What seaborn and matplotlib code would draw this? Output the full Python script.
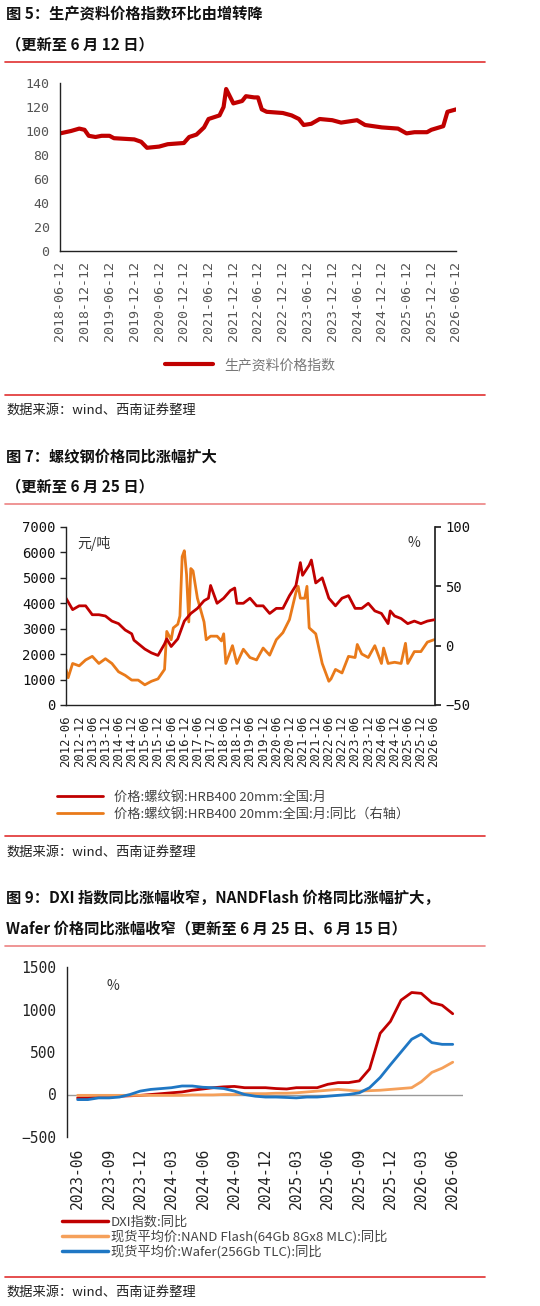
import matplotlib
matplotlib.use("Agg")
import matplotlib.pyplot as plt
import seaborn as sns
import pandas as pd
import numpy as np
from matplotlib.lines import Line2D

sns.set_theme(style="white")
plt.rcParams['font.family'] = ['Noto Sans CJK SC', 'DejaVu Sans']

# ---------- data ----------
p1_dates = ["2018-06-12","2018-09-01","2018-11-01","2018-12-10","2019-01-10","2019-03-01","2019-04-15","2019-06-12",
            "2019-07-15","2019-12-12","2020-02-01","2020-03-15","2020-06-12","2020-08-15","2020-12-12","2021-01-20",
            "2021-03-15","2021-05-10","2021-06-12","2021-09-01","2021-10-01","2021-10-20","2021-12-12","2022-02-15",
            "2022-03-15","2022-05-15","2022-06-12","2022-07-10","2022-08-15","2022-12-12","2023-02-15","2023-04-10",
            "2023-05-15","2023-07-10","2023-09-10","2023-12-12","2024-02-15","2024-06-12","2024-08-10","2024-12-12",
            "2025-04-10","2025-06-12","2025-08-10","2025-11-10","2025-12-12","2026-03-10","2026-04-10","2026-06-12"]
p1_vals = [98,100,102,101,96,95,96,96,94,93,91,86,87,89,90,95,97,103,110,113,120,135,123,125,
           129,128,128,118,116,115,113,110,105,106,110,109,107,109,105,103,102,98,99,99,101,104,116,118]
p1_ticks = ["2018-06-12","2018-12-12","2019-06-12","2019-12-12","2020-06-12","2020-12-12","2021-06-12","2021-12-12",
            "2022-06-12","2022-12-12","2023-06-12","2023-12-12","2024-06-12","2024-12-12","2025-06-12","2025-12-12","2026-06-12"]

p2_price_dates = ["2012-06","2012-09","2012-12","2013-03","2013-06","2013-09","2013-12","2014-03","2014-06","2014-09",
                  "2014-12","2015-01","2015-06","2015-09","2015-12","2016-03","2016-04","2016-06","2016-09","2016-12",
                  "2017-03","2017-06","2017-09","2017-11","2017-12","2018-03","2018-06","2018-09","2018-11","2018-12",
                  "2019-03","2019-06","2019-09","2019-12","2020-03","2020-06","2020-09","2020-12","2021-03","2021-05",
                  "2021-06","2021-09","2021-10","2021-12","2022-03","2022-06","2022-09","2022-12","2023-03","2023-06",
                  "2023-09","2023-12","2024-03","2024-06","2024-09","2024-10","2024-12","2025-03","2025-06","2025-09",
                  "2025-12","2026-03","2026-06"]
p2_price = [4200,3750,3900,3900,3550,3550,3500,3300,3200,2950,2800,2550,2200,2050,1950,2400,2600,2300,2600,3300,
            3600,3800,4100,4200,4700,4000,4200,4500,4600,4000,4000,4200,3900,3900,3600,3800,3800,4300,4700,5600,
            5100,5500,5700,4800,5000,4200,3900,4200,4300,3800,3800,4000,3700,3600,3200,3700,3500,3400,3200,3300,
            3200,3300,3350]
p2_yoy_dates = ["2012-06","2012-07","2012-09","2012-12","2013-03","2013-06","2013-09","2013-12","2014-03","2014-06",
                "2014-09","2014-12","2015-03","2015-06","2015-09","2015-12","2016-03","2016-04","2016-06","2016-07",
                "2016-09","2016-10","2016-11","2016-12","2017-01","2017-02","2017-03","2017-04","2017-06","2017-09",
                "2017-10","2017-12","2018-03","2018-05","2018-06","2018-07","2018-09","2018-10","2018-12","2019-03",
                "2019-06","2019-09","2019-12","2020-03","2020-06","2020-09","2020-12","2021-03","2021-04","2021-05",
                "2021-07","2021-08","2021-09","2021-12","2022-03","2022-06","2022-07","2022-09","2022-12","2023-03",
                "2023-06","2023-07","2023-09","2023-12","2024-03","2024-06","2024-07","2024-09","2024-12","2025-03",
                "2025-05","2025-06","2025-09","2025-12","2026-03","2026-06"]
p2_yoy = [-20,-27,-15,-17,-12,-9,-15,-11,-15,-22,-25,-29,-29,-33,-30,-28,-20,12,5,15,
          18,25,75,80,60,20,65,63,40,20,5,8,8,4,10,-15,-5,0,-15,-3,
          -10,-12,-2,-8,5,11,22,45,50,40,40,50,15,10,-15,-30,-28,-20,-23,-9,
          -10,1,-7,-10,0,-15,-2,-15,-14,-15,2,-15,-5,-5,3,5]

p3_months = pd.date_range("2023-06-01", "2026-06-01", freq="MS")
p3_dxi = [-40,-40,-30,-30,-20,-15,-10,0,10,20,30,50,65,80,90,95,80,80,80,70,65,80,80,80,120,140,140,160,300,720,860,1110,1200,1190,1080,1050,950]
p3_nand = [-10,-10,-10,-10,-10,-10,-10,-10,-10,-10,-10,-5,-5,-5,0,0,10,10,10,15,15,20,30,40,50,60,50,40,45,50,60,70,80,150,260,310,380]
p3_wafer = [-60,-60,-40,-40,-30,0,40,60,70,80,100,100,85,80,70,40,0,-20,-30,-30,-35,-40,-30,-30,-20,-10,0,20,80,200,350,500,650,710,610,590,590]
p3_ticks = ["2023-06","2023-09","2023-12","2024-03","2024-06","2024-09","2024-12","2025-03","2025-06","2025-09","2025-12","2026-03","2026-06"]

# ---------- figure ----------
W, H = 540, 1306
fig = plt.figure(figsize=(W/100, H/100), dpi=100)
RED = "#C00000"
ORANGE = "#E97A1A"
LORANGE = "#F5A05A"
BLUE = "#1F77C4"
GREY = "#404040"
MONO = ['DejaVu Sans Mono', 'Noto Sans CJK SC']

def axpx(l, t, r, b):
    return fig.add_axes([l/W, 1-b/H, (r-l)/W, (b-t)/H])

def hline(y, alpha=1.0):
    fig.add_artist(plt.Line2D([5/W, 485/W], [1-y/H, 1-y/H], color="#E03030", lw=1.2, alpha=alpha))

def head(y, lines):
    for i, s in enumerate(lines):
        fig.text(6/W, 1-(y+i*30)/H, s, fontsize=11, fontweight='bold', va='center', ha='left', color="#111111")

def source(y):
    fig.text(6/W, 1-y/H, "数据来源：wind、西南证券整理", fontsize=9.5, style='italic', va='center', color="#222222")

def style_ax(ax):
    for s in ['top', 'right']:
        ax.spines[s].set_visible(False)
    for s in ['left', 'bottom']:
        ax.spines[s].set_color("#222222"); ax.spines[s].set_linewidth(1.0)
    ax.tick_params(axis='both', colors="#222222", labelcolor=GREY, length=4, width=1, direction='out')
    ax.grid(False)

# ---- panel 1 ----
head(14, ["图 5：生产资料价格指数环比由增转降", "（更新至 6 月 12 日）"])
hline(62)
df1 = pd.DataFrame({"date": pd.to_datetime(p1_dates), "v": p1_vals})
ax1 = axpx(60, 83, 456, 251)
sns.lineplot(data=df1, x="date", y="v", ax=ax1, color=RED, lw=3, label="生产资料价格指数", legend=False)
ax1.set_ylim(0, 140); ax1.set_yticks(range(0, 141, 20))
ax1.set_xlim(pd.Timestamp("2018-06-12"), pd.Timestamp("2026-06-12"))
ax1.set_xticks(pd.to_datetime(p1_ticks)); ax1.set_xticklabels(p1_ticks, rotation=90)
ax1.set_xlabel(""); ax1.set_ylabel("")
style_ax(ax1)
for lab in ax1.get_xticklabels() + ax1.get_yticklabels():
    lab.set_fontfamily(MONO); lab.set_fontsize(9.5); lab.set_color("#555555")
h, l = ax1.get_legend_handles_labels()
fig.legend(h, l, loc='center', bbox_to_anchor=(250/W, 1-365/H), frameon=False, fontsize=10,
           labelcolor="#777777", handlelength=3.5)
hline(395); source(410)

# ---- panel 2 ----
head(456, ["图 7：螺纹钢价格同比涨幅扩大", "（更新至 6 月 25 日）"])
hline(504, 0.6)
dfp = pd.DataFrame({"date": pd.to_datetime(p2_price_dates), "v": p2_price})
dfy = pd.DataFrame({"date": pd.to_datetime(p2_yoy_dates), "v": p2_yoy})
ax2 = axpx(66, 527, 435, 705)
ax2b = ax2.twinx()
sns.lineplot(data=dfy, x="date", y="v", ax=ax2b, color=ORANGE, lw=2, legend=False)
sns.lineplot(data=dfp, x="date", y="v", ax=ax2, color=RED, lw=2, legend=False)
ax2.set_zorder(ax2b.get_zorder()+1); ax2.patch.set_visible(False)
ax2.set_ylim(0, 7000); ax2.set_yticks(range(0, 7001, 1000))
ax2b.set_ylim(-50, 100); ax2b.set_yticks([-50, 0, 50, 100])
t2 = pd.date_range("2012-06-01", "2026-06-01", freq="6MS")
ax2.set_xlim(pd.Timestamp("2012-06-01"), pd.Timestamp("2026-06-15"))
ax2.set_xticks(t2); ax2.set_xticklabels([d.strftime("%Y-%m") for d in t2], rotation=90)
for a in (ax2, ax2b):
    a.set_xlabel(""); a.set_ylabel("")
style_ax(ax2)
for s in ['top', 'left', 'bottom']:
    ax2b.spines[s].set_visible(False)
ax2b.spines['right'].set_color("#222222")
ax2b.tick_params(axis='y', colors="#222222", labelcolor=GREY, length=4)
ax2b.grid(False)
for lab in ax2.get_yticklabels() + ax2b.get_yticklabels():
    lab.set_fontfamily(MONO); lab.set_fontsize(10); lab.set_color("#111111")
for lab in ax2.get_xticklabels():
    lab.set_fontfamily(MONO); lab.set_fontsize(8.8); lab.set_color("#222222")
ax2.text(0.03, 0.95, "元/吨", transform=ax2.transAxes, fontsize=10, color="#333333", va='top')
ax2.text(0.96, 0.95, "%", transform=ax2.transAxes, fontsize=10, color="#333333", va='top', ha='right', style='italic')
hh = [Line2D([], [], color=RED, lw=2), Line2D([], [], color=ORANGE, lw=2)]
fig.legend(hh, ["价格:螺纹钢:HRB400 20mm:全国:月", "价格:螺纹钢:HRB400 20mm:全国:月:同比（右轴）"],
           loc='center left', bbox_to_anchor=(45/W, 1-806/H), frameon=False, fontsize=9.5,
           labelcolor="#444444", handlelength=3.5, labelspacing=0.3)
hline(836); source(852)

# ---- panel 3 ----
head(898, ["图 9：DXI 指数同比涨幅收窄，NANDFlash 价格同比涨幅扩大，", "Wafer 价格同比涨幅收窄（更新至 6 月 25 日、6 月 15 日）"])
hline(946, 0.6)
df3 = pd.DataFrame({"date": list(p3_months)*3,
                    "v": p3_dxi + p3_nand + p3_wafer,
                    "s": ["DXI指数:同比"]*37 + ["现货平均价:NAND Flash(64Gb 8Gx8 MLC):同比"]*37 + ["现货平均价:Wafer(256Gb TLC):同比"]*37})
ax3 = axpx(67, 967, 463, 1137)
sns.lineplot(data=df3, x="date", y="v", hue="s", ax=ax3, lw=2,
             palette=[RED, LORANGE, BLUE], legend=False)
ax3.set_ylim(-500, 1500); ax3.set_yticks([-500, 0, 500, 1000, 1500])
ax3.set_xlim(pd.Timestamp("2023-05-01"), pd.Timestamp("2026-07-01"))
ax3.set_xticks(pd.to_datetime(p3_ticks)); ax3.set_xticklabels(p3_ticks, rotation=90)
ax3.set_xlabel(""); ax3.set_ylabel("")
style_ax(ax3)
ax3.spines['bottom'].set_visible(False)
ax3.axhline(0, color="#999999", lw=1, zorder=0)
ax3.tick_params(axis='x', length=0, pad=8)
for lab in ax3.get_xticklabels() + ax3.get_yticklabels():
    lab.set_fontfamily(MONO); lab.set_fontsize(10.5); lab.set_color("#222222")
ax3.text(0.1, 0.93, "%", transform=ax3.transAxes, fontsize=10, color="#333333", va='top', style='italic')
hh = [Line2D([], [], color=c, lw=2.5) for c in (RED, LORANGE, BLUE)]
fig.legend(hh, ["DXI指数:同比", "现货平均价:NAND Flash(64Gb 8Gx8 MLC):同比", "现货平均价:Wafer(256Gb TLC):同比"],
           loc='center left', bbox_to_anchor=(50/W, 1-1237/H), frameon=False, fontsize=9.5,
           labelcolor="#444444", handlelength=3.5, labelspacing=0.1, handletextpad=0.2)
hline(1277); source(1292)

fig.savefig("out.png", dpi=100)
